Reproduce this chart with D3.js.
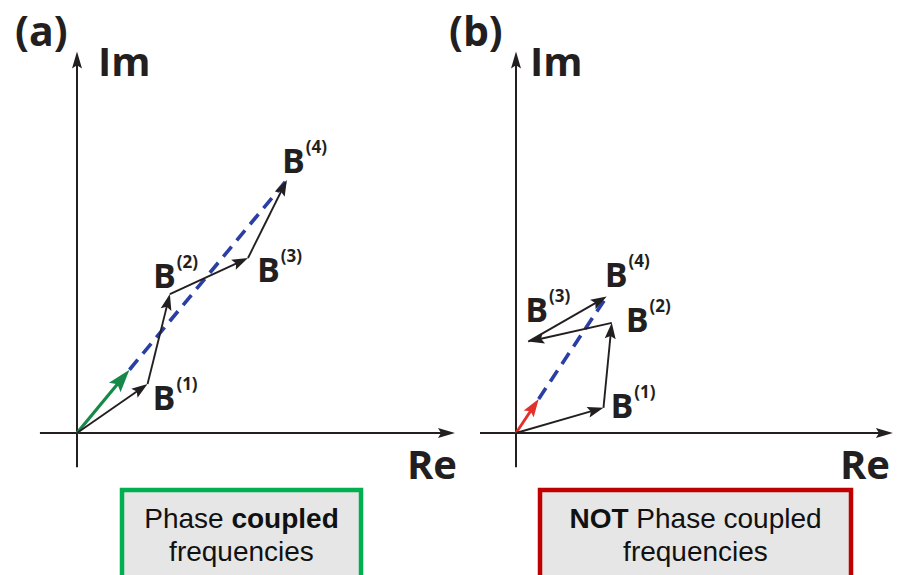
<!DOCTYPE html>
<html>
<head>
<meta charset="utf-8">
<script src="https://cdn.jsdelivr.net/npm/d3@7"></script>
<style>
  body { margin: 0; background: #fff; }
</style>
</head>
<body>
<div id="chart"></div>
<script>
// Data
const panelTags = ["(a)", "(b)"];
const stepLabels = ["(1)", "(2)", "(3)", "(4)"];
// cumulative phasor sums B(k), real and imaginary parts
const coupledRe = [1.96, 2.58, 4.75, 5.83];
const coupledIm = [1.36, 3.86, 4.86, 7.03];
const uncoupledRe = [2.43, 2.66, 0.34, 2.52];
const uncoupledIm = [0.70, 3.06, 2.54, 3.79];
const boxLine1 = [
  [{ t: "Phase ", b: false }, { t: "coupled", b: true }],
  [{ t: "NOT", b: true }, { t: " Phase coupled", b: false }],
];
const boxLine2 = ["frequencies", "frequencies"];

// Dimensions
const width = 901;
const height = 575;
const unit = 36;
const originY = 433;

const panels = [
  {
    tag: panelTags[0], ox: 77, re: coupledRe, im: coupledIm,
    meanColor: "#16894a", meanHead: [23, 15], meanWidth: 3.2,
    reMin: -1.03, reMax: 10.5, imMin: -0.95, imMax: 10.6,
    tagX: 14, imX: 98, reX: 457,
    offsets: [[5, 26], [-17, -6], [9, 24], [-5, -7]],
    box: { x: 122, w: 239, color: "#00b050", line1: boxLine1[0], line2: boxLine2[0] },
  },
  {
    tag: panelTags[1], ox: 516, re: uncoupledRe, im: uncoupledIm,
    meanColor: "#e2302b", meanHead: [18, 12], meanWidth: 2.8,
    reMin: -1.0, reMax: 10.47, imMin: -0.95, imMax: 10.6,
    tagX: 448, imX: 530, reX: 890,
    offsets: [[7, 10], [14, 9], [-3, -20], [-2, -10]],
    box: { x: 540, w: 311, color: "#c00000", line1: boxLine1[1], line2: boxLine2[1] },
  },
];

const svg = d3
  .select("#chart")
  .append("svg")
  .attr("width", width)
  .attr("height", height);

const ink = "#231f20";

// arrowhead polygon at tip (x2,y2) pointing from (x1,y1)
function head(x1, y1, x2, y2, len, wid) {
  const a = Math.atan2(y2 - y1, x2 - x1);
  const c = Math.cos(a), s = Math.sin(a);
  const pt = (u, v) => [x2 + u * c - v * s, y2 + u * s + v * c];
  return [pt(0, 0), pt(-len, -wid / 2), pt(-len * 0.82, 0), pt(-len, wid / 2)];
}

function arrow(g, x1, y1, x2, y2, color, sw, len, wid) {
  const a = Math.atan2(y2 - y1, x2 - x1);
  const back = len * 0.6;
  g.append("line")
    .attr("x1", x1).attr("y1", y1)
    .attr("x2", x2 - back * Math.cos(a)).attr("y2", y2 - back * Math.sin(a))
    .attr("stroke", color)
    .attr("stroke-width", sw);
  g.append("path")
    .attr("d", d3.line()(head(x1, y1, x2, y2, len, wid)) + "Z")
    .attr("fill", color);
}

panels.forEach((p) => {
  const x = d3.scaleLinear().domain([0, 10]).range([p.ox, p.ox + 10 * unit]);
  const y = d3.scaleLinear().domain([0, 10]).range([originY, originY - 10 * unit]);
  const g = svg.append("g");

  // Axes
  g.append("line")
    .attr("x1", x(p.reMin)).attr("y1", y(0))
    .attr("x2", x(p.reMax) - 8).attr("y2", y(0))
    .attr("stroke", ink).attr("stroke-width", 2);
  g.append("path")
    .attr("d", d3.line()(head(x(0), y(0), x(p.reMax), y(0), 17, 10)) + "Z")
    .attr("fill", ink);
  g.append("line")
    .attr("x1", x(0)).attr("y1", y(p.imMin))
    .attr("x2", x(0)).attr("y2", y(p.imMax) + 8)
    .attr("stroke", ink).attr("stroke-width", 2);
  g.append("path")
    .attr("d", d3.line()(head(x(0), y(0), x(0), y(p.imMax), 17, 10)) + "Z")
    .attr("fill", ink);

  // Axis titles
  g.append("text")
    .attr("x", p.imX).attr("y", 76)
    .attr("font-family", "Open Sans")
    .attr("font-weight", 700)
    .attr("font-size", 40)
    .attr("fill", ink)
    .text("Im");
  g.append("text")
    .attr("x", p.reX).attr("y", 479)
    .attr("text-anchor", "end")
    .attr("font-family", "Open Sans")
    .attr("font-weight", 700)
    .attr("font-size", 40)
    .attr("fill", ink)
    .text("Re");
  g.append("text")
    .attr("x", p.tagX + 1).attr("y", 46)
    .attr("font-family", "Open Sans")
    .attr("font-weight", 700)
    .attr("font-size", 41)
    .attr("fill", ink)
    .text(p.tag);

  // Mean phasor and dashed line to the sum
  const n = p.re.length;
  const mRe = p.re[n - 1] / n;
  const mIm = p.im[n - 1] / n;

  g.append("line")
    .attr("x1", x(mRe)).attr("y1", y(mIm))
    .attr("x2", x(p.re[n - 1])).attr("y2", y(p.im[n - 1]))
    .attr("stroke", "#2a3ea3")
    .attr("stroke-width", 3.6)
    .attr("stroke-dasharray", "13 8");

  arrow(g, x(0), y(0), x(mRe), y(mIm), p.meanColor, p.meanWidth, p.meanHead[0], p.meanHead[1]);

  // Phasor chain
  p.re.forEach((r, i) => {
    const r0 = i === 0 ? 0 : p.re[i - 1];
    const i0 = i === 0 ? 0 : p.im[i - 1];
    arrow(g, x(r0), y(i0), x(r), y(p.im[i]), ink, 1.9, 16, 11);

    const lbl = g.append("text")
      .attr("x", x(r) + p.offsets[i][0])
      .attr("y", y(p.im[i]) + p.offsets[i][1])
      .attr("font-family", "Open Sans")
      .attr("font-weight", 700)
      .attr("fill", ink);
    lbl.append("tspan").attr("font-size", 34).text("B");
    lbl.append("tspan")
      .attr("font-size", 17)
      .attr("dx", 1)
      .attr("dy", -20)
      .text(stepLabels[i]);
  });

  // Caption box
  const bx = p.box;
  svg.append("rect")
    .attr("x", bx.x).attr("y", 490)
    .attr("width", bx.w).attr("height", 120)
    .attr("fill", "#e6e6e6")
    .attr("stroke", bx.color)
    .attr("stroke-width", 4.5);
  const cx = bx.x + bx.w / 2;
  const t1 = svg.append("text")
    .attr("x", cx).attr("y", 528)
    .attr("text-anchor", "middle")
    .attr("font-family", "Liberation Sans")
    .attr("font-size", 28)
    .attr("fill", "#111");
  bx.line1.forEach((s) => {
    t1.append("tspan")
      .attr("font-weight", s.b ? 700 : 400)
      .text(s.t);
  });
  svg.append("text")
    .attr("x", cx).attr("y", 561)
    .attr("text-anchor", "middle")
    .attr("font-family", "Liberation Sans")
    .attr("font-size", 28)
    .attr("fill", "#111")
    .text(bx.line2);
});
</script>
</body>
</html>
